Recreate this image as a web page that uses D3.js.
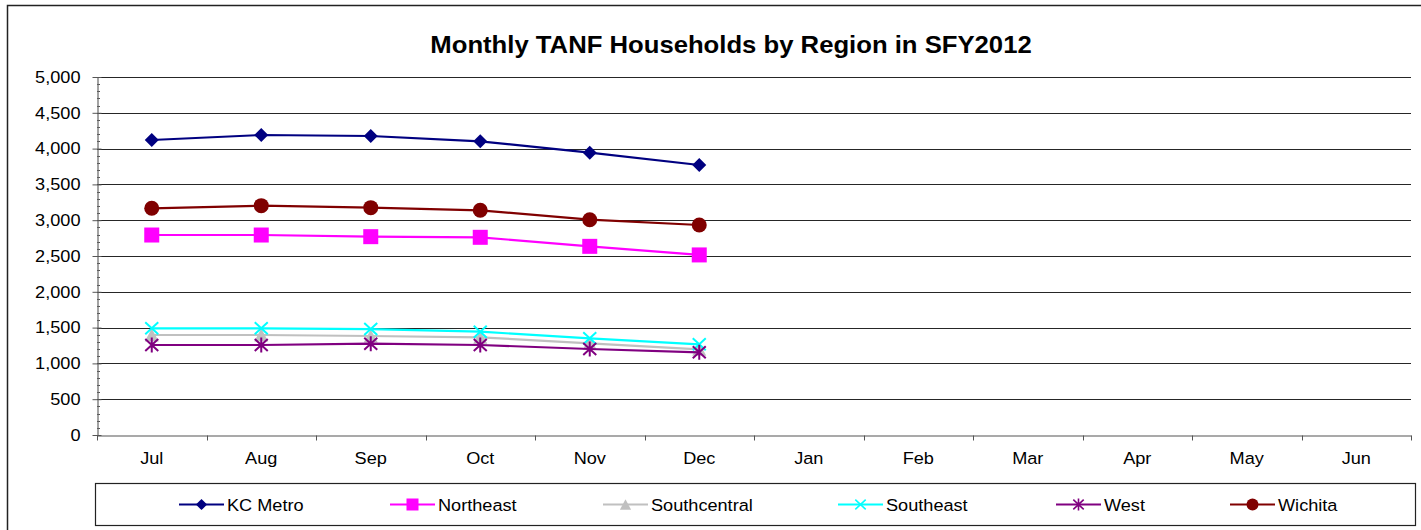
<!DOCTYPE html>
<html>
<head>
<meta charset="utf-8">
<script src="https://cdn.jsdelivr.net/npm/d3@7"></script>
<style>
  html, body { margin: 0; padding: 0; background: #fff; }
  svg { display: block; font-family: "Liberation Sans", Arial, sans-serif; }
</style>
</head>
<body>
<svg id="chart" width="1421" height="530"></svg>
<script>
const months = ["Jul","Aug","Sep","Oct","Nov","Dec","Jan","Feb","Mar","Apr","May","Jun"];
const kcMetro      = [4120, 4190, 4176, 4102, 3943, 3771];
const northeast    = [2793, 2793, 2770, 2761, 2635, 2515];
const southcentral = [1397, 1397, 1383, 1364, 1280, 1197];
const southeast    = [1490, 1490, 1480, 1443, 1350, 1267];
const west         = [1257, 1257, 1275, 1257, 1201, 1155];
const wichita      = [3166, 3203, 3175, 3138, 3007, 2933];
const yTicks = [0, 500, 1000, 1500, 2000, 2500, 3000, 3500, 4000, 4500, 5000];
const title = "Monthly TANF Households by Region in SFY2012";

const series = [
  {name: "KC Metro", values: kcMetro, color: "#000080", marker: "diamond"},
  {name: "Northeast", values: northeast, color: "#FF00FF", marker: "square"},
  {name: "Southcentral", values: southcentral, color: "#C0C0C0", marker: "triangle"},
  {name: "Southeast", values: southeast, color: "#00FFFF", marker: "x"},
  {name: "West", values: west, color: "#800080", marker: "star"},
  {name: "Wichita", values: wichita, color: "#800000", marker: "circle"}
];

const SX = 1.1; // horizontal stretch of text as seen in the reference
const svg = d3.select("#chart");
const plot = {left: 97, right: 1411, top: 77, bottom: 435};

// outer border
svg.append("rect").attr("x", 7.5).attr("y", 5.5).attr("width", 1430).attr("height", 540)
  .attr("fill", "none").attr("stroke", "#222").attr("stroke-width", 1.5);

svg.append("text").attr("transform", "translate(731,53) scale(1.07,1)")
  .attr("text-anchor", "middle")
  .attr("font-size", 24).attr("font-weight", "bold").attr("fill", "#000").text(title);

const x = d3.scaleBand().domain(months).range([plot.left, plot.right]).padding(0);
const y = d3.scaleLinear().domain([0, 5000]).range([plot.bottom, plot.top]);

// gridlines
svg.append("g").selectAll("line").data(yTicks.filter(d => d > 0)).join("line")
  .attr("x1", plot.left).attr("x2", plot.right)
  .attr("y1", d => Math.round(y(d)) + 0.5).attr("y2", d => Math.round(y(d)) + 0.5)
  .attr("stroke", "#262626").attr("stroke-width", 1);

// y axis minor ticks (inside)
const minor = d3.range(0, 5001, 100).filter(d => d % 500 !== 0);
svg.append("g").selectAll("line").data(minor).join("line")
  .attr("x1", plot.left).attr("x2", plot.left + 3)
  .attr("y1", d => Math.round(y(d)) + 0.5).attr("y2", d => Math.round(y(d)) + 0.5)
  .attr("stroke", "#555");

function stretchText(sel) {
  sel.each(function() {
    const t = d3.select(this);
    const tx = +t.attr("x") || 0, ty = +t.attr("y") || 0;
    t.attr("x", 0).attr("y", 0).attr("transform", `translate(${tx},${ty}) scale(${SX},1)`);
  });
}

// y axis
const yAxis = d3.axisLeft(y).tickValues(yTicks).tickSize(0).tickPadding(17)
  .tickFormat(d3.format(","));
const gy = svg.append("g").attr("transform", `translate(${plot.left + 0.5},0)`).call(yAxis);
gy.select(".domain").attr("stroke", "#666").attr("stroke-width", 1.2);
gy.selectAll("text").attr("font-size", 16.5).attr("fill", "#000")
  .attr("font-family", "'Liberation Sans', Arial, sans-serif").call(stretchText);
gy.selectAll(".tick").append("line").attr("x1", -5).attr("x2", 4).attr("stroke", "#555");

// x axis
const xAxis = d3.axisBottom(x).tickSize(0).tickPadding(17);
const gx = svg.append("g").attr("transform", `translate(0,${plot.bottom + 0.5})`).call(xAxis);
gx.select(".domain").attr("stroke", "#555").attr("stroke-width", 1.2);
gx.selectAll("text").attr("font-size", 16.5).attr("fill", "#000")
  .attr("font-family", "'Liberation Sans', Arial, sans-serif").call(stretchText);
const bounds = months.map(m => x(m)).concat([plot.right]);
gx.append("g").selectAll("line").data(bounds).join("line")
  .attr("x1", d => Math.round(d) + 0.5).attr("x2", d => Math.round(d) + 0.5)
  .attr("y1", 0).attr("y2", 5).attr("stroke", "#555");

function drawMarker(g, type, color) {
  switch (type) {
    case "diamond":
      g.append("path").attr("d", "M0,-7L7,0L0,7L-7,0Z").attr("fill", color); break;
    case "square":
      g.append("rect").attr("x", -7.5).attr("y", -7.5).attr("width", 15).attr("height", 15).attr("fill", color); break;
    case "triangle":
      g.append("path").attr("d", "M0,-6.5L7,6.5L-7,6.5Z").attr("fill", color); break;
    case "x":
      g.append("path").attr("d", "M-6.5,-6L6.5,6M-6.5,6L6.5,-6").attr("stroke", color).attr("stroke-width", 2); break;
    case "star":
      g.append("path").attr("d", "M-6.5,-6L6.5,6M-6.5,6L6.5,-6M0,-7.5L0,7.5").attr("stroke", color).attr("stroke-width", 2); break;
    case "circle":
      g.append("circle").attr("r", 7.5).attr("fill", color); break;
  }
}

const line = d3.line().x((d, i) => x(months[i]) + x.bandwidth() / 2).y(d => y(d));

series.forEach(s => {
  const g = svg.append("g");
  g.append("path").datum(s.values).attr("d", line)
    .attr("fill", "none").attr("stroke", s.color).attr("stroke-width", 2.2);
  s.values.forEach((v, i) => {
    const mg = g.append("g").attr("transform", `translate(${x(months[i]) + x.bandwidth() / 2},${y(v)})`);
    drawMarker(mg, s.marker, s.color);
  });
});

// legend
const legend = svg.append("g");
legend.append("rect").attr("x", 95.5).attr("y", 483.5).attr("width", 1320).attr("height", 42)
  .attr("fill", "#fff").attr("stroke", "#222").attr("stroke-width", 1.2);
const legendTextX = [226, 437, 650, 885, 1103, 1277];
series.forEach((s, i) => {
  const tx = legendTextX[i];
  const cy = 504.5;
  legend.append("line").attr("x1", tx - 47).attr("x2", tx - 2).attr("y1", cy).attr("y2", cy)
    .attr("stroke", s.color).attr("stroke-width", 2.2);
  const mg = legend.append("g").attr("transform", `translate(${tx - 24.5},${cy}) scale(0.8)`);
  drawMarker(mg, s.marker, s.color);
  legend.append("text").attr("transform", `translate(${tx + 1},${cy + 6.5}) scale(${SX},1)`)
    .attr("font-size", 16.5).attr("fill", "#000").text(s.name);
});
</script>
</body>
</html>
